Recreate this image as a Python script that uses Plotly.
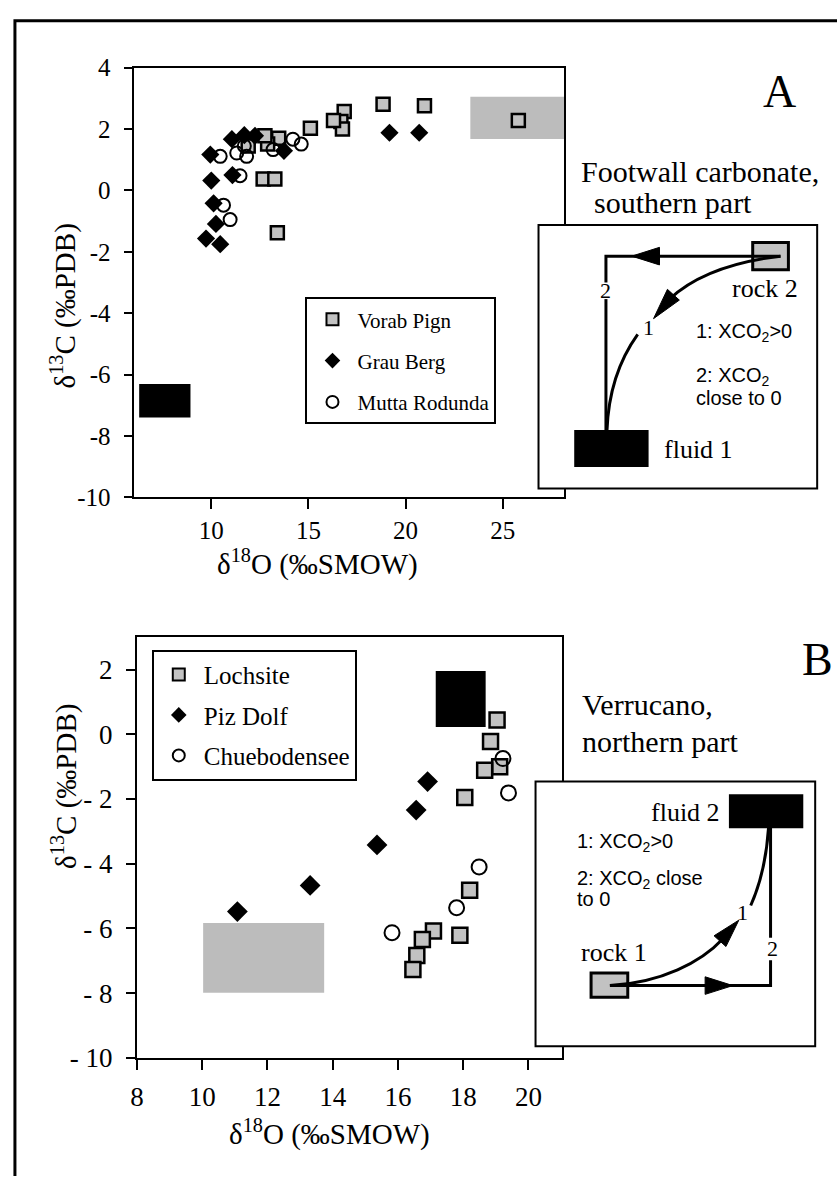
import plotly.graph_objects as go

W, H = 837, 1191

# ---------------- Panel A data ----------------
vorab_x = [18.84, 20.97, 25.80, 16.84, 16.67, 16.75, 16.29, 15.10, 13.47, 12.90, 12.76, 12.67, 13.27, 13.40, 11.90]
vorab_y = [2.81, 2.76, 2.28, 2.57, 2.25, 2.00, 2.28, 2.03, 1.70, 1.51, 1.78, 0.37, 0.37, -1.38, 1.45]
grau_x = [19.17, 20.70, 13.74, 11.06, 11.70, 12.25, 9.95, 11.09, 10.00, 10.12, 10.24, 9.73, 10.46]
grau_y = [1.88, 1.88, 1.29, 1.67, 1.80, 1.78, 1.17, 0.50, 0.32, -0.42, -1.09, -1.57, -1.75]
mutta_x = [10.46, 11.31, 11.82, 11.48, 10.63, 10.97, 14.20, 14.63, 13.18, 11.70]
mutta_y = [1.11, 1.22, 1.11, 0.48, -0.48, -0.95, 1.67, 1.51, 1.33, 1.45]
# field boxes A: [x0, x1, y0, y1]
rockA_box = [23.33, 28.15, 1.68, 3.05]
fluidA_box = [6.29, 8.93, -7.40, -6.31]

# ---------------- Panel B data ----------------
loch_x = [19.04, 18.84, 19.12, 18.66, 18.05, 18.20, 17.90, 17.09, 16.75, 16.58, 16.46]
loch_y = [0.44, -0.22, -1.00, -1.11, -1.95, -4.82, -6.21, -6.08, -6.34, -6.84, -7.27]
piz_x = [16.91, 16.56, 15.36, 13.31, 11.08]
piz_y = [-1.46, -2.34, -3.42, -4.67, -5.48]
chue_x = [19.22, 19.39, 18.49, 17.80, 15.82]
chue_y = [-0.75, -1.81, -4.10, -5.36, -6.13]
fluidB_box = [17.16, 18.69, 0.23, 1.96]
rockB_box = [10.03, 13.74, -7.99, -5.83]

# ticks
xA_ticks = [10, 15, 20, 25]
yA_ticks = [-10, -8, -6, -4, -2, 0, 2, 4]
yA_text = ["-10", "-8", "-6", "-4", "-2", "0", "2", "4"]
xB_ticks = [8, 10, 12, 14, 16, 18, 20]
yB_ticks = [-10, -8, -6, -4, -2, 0, 2]
yB_text = ["- 10", "- 8", "- 6", "- 4", "- 2", "0", "2"]

SERIF = "Liberation Serif"
SANS = "Liberation Sans"
GREY = "#c2c2c2"


def X(px):
    return px / W


def Y(py):
    return 1 - py / H


fig = go.Figure()

sq = dict(symbol="square", color=GREY, line=dict(color="black", width=2.5))
dm = dict(symbol="diamond", color="black", line=dict(color="black", width=0))
ci = dict(symbol="circle-open", color="black", line=dict(color="black", width=2))

fig.add_trace(go.Scatter(x=vorab_x, y=vorab_y, mode="markers", name="Vorab Pign",
                         marker=dict(size=13, **sq), xaxis="x", yaxis="y",
                         legend="legend", legendgroup="a1"))
fig.add_trace(go.Scatter(x=grau_x, y=grau_y, mode="markers", name="Grau Berg",
                         marker=dict(size=14, **dm), xaxis="x", yaxis="y",
                         legend="legend", legendgroup="a2"))
fig.add_trace(go.Scatter(x=mutta_x, y=mutta_y, mode="markers", name="Mutta Rodunda",
                         marker=dict(size=13, **ci), xaxis="x", yaxis="y",
                         legend="legend", legendgroup="a3"))

fig.add_trace(go.Scatter(x=loch_x, y=loch_y, mode="markers", name="Lochsite",
                         marker=dict(size=15, **sq), xaxis="x2", yaxis="y2",
                         legend="legend2", legendgroup="b1"))
fig.add_trace(go.Scatter(x=piz_x, y=piz_y, mode="markers", name="Piz Dolf",
                         marker=dict(size=16, **dm), xaxis="x2", yaxis="y2",
                         legend="legend2", legendgroup="b2"))
fig.add_trace(go.Scatter(x=chue_x, y=chue_y, mode="markers", name="Chuebodensee",
                         marker=dict(size=15, **ci), xaxis="x2", yaxis="y2",
                         legend="legend2", legendgroup="b3"))

shapes = []
# field boxes from data
shapes.append(dict(type="rect", xref="x", yref="y", x0=rockA_box[0], x1=rockA_box[1],
                   y0=rockA_box[2], y1=rockA_box[3], fillcolor="#bcbcbc",
                   line=dict(width=0), layer="below"))
shapes.append(dict(type="rect", xref="x", yref="y", x0=fluidA_box[0], x1=fluidA_box[1],
                   y0=fluidA_box[2], y1=fluidA_box[3], fillcolor="black",
                   line=dict(width=0), layer="below"))
shapes.append(dict(type="rect", xref="x2", yref="y2", x0=fluidB_box[0], x1=fluidB_box[1],
                   y0=fluidB_box[2], y1=fluidB_box[3], fillcolor="black",
                   line=dict(width=0), layer="below"))
shapes.append(dict(type="rect", xref="x2", yref="y2", x0=rockB_box[0], x1=rockB_box[1],
                   y0=rockB_box[2], y1=rockB_box[3], fillcolor="#bcbcbc",
                   line=dict(width=0), layer="below"))


def path_px(points_cmd, fill=None, lw=3):
    d = ""
    for tok in points_cmd:
        if isinstance(tok, str):
            d += tok + " "
        else:
            d += f"{X(tok[0]):.5f},{Y(tok[1]):.5f} "
    s = dict(type="path", xref="paper", yref="paper", path=d.strip(),
             line=dict(color="black", width=lw), layer="above")
    if fill:
        s["fillcolor"] = fill
        s["line"] = dict(color="black", width=1)
    return s


def rect_px(x0, y0, x1, y1, fill, lw=2):
    return dict(type="rect", xref="paper", yref="paper", x0=X(x0), x1=X(x1),
                y0=Y(y1), y1=Y(y0), fillcolor=fill,
                line=dict(color="black", width=lw), layer="above")


# outer frame (top and left edges only visible)
shapes.append(path_px(["M", (8, 1191), "L", (8, 8), "L", (837, 8)], lw=3))

# ---- inset A ----
shapes.append(rect_px(536, 217, 817, 487, "white", 2))
shapes.append(rect_px(752, 235, 788, 263, GREY, 3))
shapes.append(rect_px(572, 427, 647, 465, "black", 0))
shapes.append(path_px(["M", (780, 249), "L", (604, 249), "L", (604, 276)]))
shapes.append(path_px(["M", (604, 293), "L", (604, 428)]))
shapes.append(path_px(["M", (630, 249), "L", (658, 240), "L", (658, 258), "Z"], fill="black"))
shapes.append(path_px(["M", (780, 249), "Q", (705, 258), (668, 293)]))
shapes.append(path_px(["M", (652, 313), "L", (678, 294), "L", (666, 283), "Z"], fill="black"))
shapes.append(path_px(["M", (636, 329), "Q", (607, 370), (605, 428)]))

# ---- inset B ----
shapes.append(rect_px(533, 787, 815, 1058, "white", 2))
shapes.append(rect_px(728, 800, 803, 835, "black", 0))
shapes.append(rect_px(589, 983, 626, 1008, GREY, 3))
shapes.append(path_px(["M", (608, 996), "L", (770, 996), "L", (770, 970)]))
shapes.append(path_px(["M", (770, 947), "L", (770, 834)]))
shapes.append(path_px(["M", (732, 996), "L", (704, 987), "L", (704, 1005), "Z"], fill="black"))
shapes.append(path_px(["M", (608, 996), "C", (660, 993), (700, 972), (722, 948)]))
shapes.append(path_px(["M", (738, 929), "L", (725, 956), "L", (713, 945), "Z"], fill="black"))
shapes.append(path_px(["M", (750, 914), "Q", (765, 880), (768, 834)]))

ann = []


def txt(x, y, s, size, font=SERIF, xanchor="center", yanchor="middle", angle=0):
    ann.append(dict(x=X(x), y=Y(y), xref="paper", yref="paper", text=s, showarrow=False,
                    xanchor=xanchor, yanchor=yanchor, textangle=angle,
                    font=dict(family=font, size=size, color="black")))


# panel titles / labels
txt(779, 80, "A", 46)
txt(577, 162, "Footwall carbonate,", 30, xanchor="left")
txt(590, 194, "southern part", 30, xanchor="left")
txt(817, 662, "B", 46)
txt(578, 708, "Verrucano,", 30, xanchor="left")
txt(578, 746, "northern part", 30, xanchor="left")

# axis titles
txt(57, 300, "δ<sup>13</sup>C (‰PDB)", 29, angle=-90)
txt(313, 563, "δ<sup>18</sup>O (‰SMOW)", 29)
txt(58, 792, "δ<sup>13</sup>C (‰PDB)", 29, angle=-90)
txt(325, 1146, "δ<sup>18</sup>O (‰SMOW)", 29)

# inset A texts
txt(764, 282, "rock 2", 26)
txt(661, 447, "fluid 1", 26, xanchor="left")
txt(604, 284, "2", 22)
txt(647, 322, "1", 22)
txt(693, 327, "1: XCO<sub>2</sub>&gt;0", 20, font=SANS, xanchor="left")
txt(693, 372, "2: XCO<sub>2</sub>", 20, font=SANS, xanchor="left")
txt(693, 394, "close to 0", 20, font=SANS, xanchor="left")

# inset B texts
txt(721, 819, "fluid 2", 26, xanchor="right")
txt(573, 849, "1: XCO<sub>2</sub>&gt;0", 20, font=SANS, xanchor="left")
txt(573, 887, "2: XCO<sub>2</sub> close", 20, font=SANS, xanchor="left")
txt(573, 907, "to 0", 20, font=SANS, xanchor="left")
txt(742, 921, "1", 22)
txt(772, 958, "2", 22)
txt(612, 962, "rock 1", 26)

axis_common = dict(showline=True, linecolor="black", linewidth=2, mirror=True,
                   ticks="outside", tickcolor="black", tickwidth=2,
                   showgrid=False, zeroline=False)

fig.update_layout(
    width=W, height=H,
    margin=dict(l=0, r=0, t=0, b=0),
    paper_bgcolor="white", plot_bgcolor="white",
    font=dict(family=SERIF, color="black"),
    xaxis=dict(domain=[X(127.6), X(561.7)], range=[6, 28.15], tickvals=xA_ticks,
               ticklen=10, tickfont=dict(family=SERIF, size=25, color="black"),
               anchor="y", ticklabelstandoff=0, **axis_common),
    yaxis=dict(domain=[Y(496), Y(56)], range=[-10, 4], tickvals=yA_ticks, ticktext=yA_text,
               ticklen=8, tickfont=dict(family=SERIF, size=25, color="black"),
               anchor="x", ticklabelstandoff=8, **axis_common),
    xaxis2=dict(domain=[X(131), X(560)], range=[8, 21.04], tickvals=xB_ticks,
                ticklen=10, tickfont=dict(family=SERIF, size=27, color="black"),
                anchor="y2", ticklabelstandoff=4, **axis_common),
    yaxis2=dict(domain=[Y(1070), Y(639.3)], range=[-10, 3], tickvals=yB_ticks, ticktext=yB_text,
                ticklen=9, tickfont=dict(family=SERIF, size=27, color="black"),
                anchor="x2", ticklabelstandoff=8, **axis_common),
    legend=dict(x=X(301), y=Y(291), xanchor="left", yanchor="top",
                bordercolor="black", borderwidth=2, bgcolor="white",
                font=dict(family=SERIF, size=21, color="black"), itemwidth=40,
                tracegroupgap=11, itemsizing="constant"),
    legend2=dict(x=X(146), y=Y(652), xanchor="left", yanchor="top",
                 bordercolor="black", borderwidth=2, bgcolor="white",
                 font=dict(family=SERIF, size=25, color="black"), itemwidth=40,
                 tracegroupgap=5, itemsizing="constant"),
    shapes=shapes,
    annotations=ann,
    showlegend=True,
)

fig.write_html("out.html")
